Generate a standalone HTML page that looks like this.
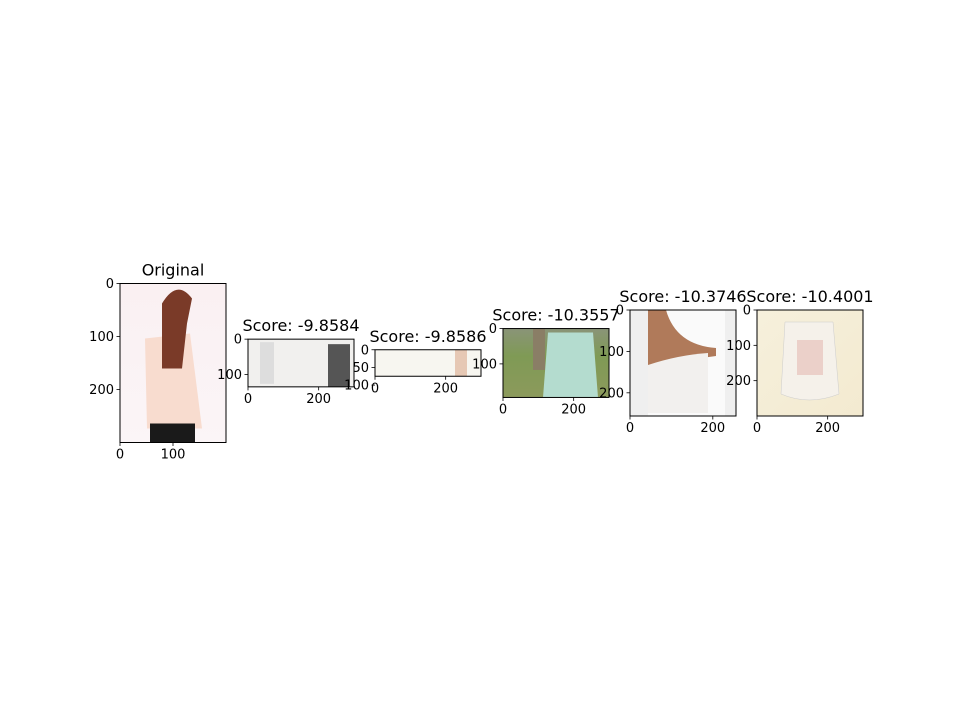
<!DOCTYPE html>
<html><head><meta charset="utf-8"><style>
html,body{margin:0;padding:0;background:#fff;width:960px;height:719px;overflow:hidden}
svg{font-family:"DejaVu Sans","Liberation Sans",sans-serif}
</style></head><body>
<svg id="fig" width="960" height="719" xmlns="http://www.w3.org/2000/svg">
<defs>
<linearGradient id="g0" x1="0" y1="0" x2="0" y2="1"><stop offset="0" stop-color="#faf0f2"/><stop offset="1" stop-color="#fbf5f7"/></linearGradient>
<linearGradient id="g3" x1="0" y1="0" x2="0" y2="1"><stop offset="0" stop-color="#8a9478"/><stop offset="0.4" stop-color="#7f9a55"/><stop offset="1" stop-color="#8c9a5c"/></linearGradient>
<linearGradient id="g5" x1="0" y1="0" x2="1" y2="1"><stop offset="0" stop-color="#f6f0dc"/><stop offset="1" stop-color="#f3ead0"/></linearGradient>
</defs>
</svg>
<script>
const titles = ["Original","Score: -9.8584","Score: -9.8586","Score: -10.3557","Score: -10.3746","Score: -10.4001"];
const imgW = [200,300,300,300,256,300];
const imgH = [300,135,75,195,256,300];
const xTicks = [[0,100],[0,200],[0,200],[0,200],[0,200],[0,200]];
const yTicks = [[0,100,200],[0,100],[0,50,100],[0,100],[0,100,200],[0,100,200]];
const boxX = [120,248,375,503,630,757];
const boxW = 106;
const centerY = 363;
const NS="http://www.w3.org/2000/svg";
const svg=document.getElementById('fig');
function mk(t,a,p){const e=document.createElementNS(NS,t);for(const k in a)e.setAttribute(k,a[k]);(p||svg).appendChild(e);return e;}
const fills=["url(#g0)","#f1f0ee","#f7f6f0","url(#g3)","#efefef","url(#g5)"];
titles.forEach((tt,i)=>{
  const s=boxW/imgW[i];
  const h=imgH[i]*s;
  const x0=boxX[i], y0=centerY-h/2;
  const g=mk('g',{});
  
  
  const im=mk('g',{},g);
  
  
  mk('rect',{x:x0,y:y0,width:boxW,height:h,fill:fills[i]},im);
  if(i===0){
    mk('path',{d:`M${x0+25} ${y0+55} l45 -5 l12 95 l-55 0 z`,fill:'#f8dccf'},im);
    mk('path',{d:`M${x0+42} ${y0+20} q15 -25 30 -5 l-5 25 l-5 45 l-20 0 z`,fill:'#7a3a28'},im);
    mk('rect',{x:x0+30,y:y0+140,width:45,height:19,fill:'#1a1a1a'},im);
  }else if(i===1){
    mk('rect',{x:x0+12,y:y0+3,width:14,height:h-6,fill:'#ddd'},im);
    mk('rect',{x:x0+80,y:y0+5,width:22,height:h-5,fill:'#555'},im);
  }else if(i===2){
    mk('rect',{x:x0+80,y:y0,width:12,height:h,fill:'#e6c8b4'},im);
  }else if(i===3){
    mk('rect',{x:x0+30,y:y0,width:12,height:h*0.6,fill:'#8a7e66'},im);
    mk('path',{d:`M${x0+45} ${y0+4} l45 0 l5 ${h-4} l-55 0 z`,fill:'#b4dccf'},im);
  }else if(i===4){
    mk('rect',{x:x0+18,y:y0,width:77,height:h,fill:'#fafafa'},im);
    mk('path',{d:`M${x0+18} ${y0} l18 0 q10 35 50 38 l0 8 q-35 5 -50 5 l-18 40 z`,fill:'#b07a5a'},im);
    mk('path',{d:`M${x0+18} ${y0+55} q30 -10 60 -12 l0 60 l-60 0 z`,fill:'#f2f0ee'},im);
  }else{
    mk('path',{d:`M${x0+28} ${y0+12} l48 0 l6 72 q-30 12 -58 0 z`,fill:'#f5f1ea',stroke:'#ccc','stroke-width':0.5},im);
    mk('rect',{x:x0+40,y:y0+30,width:26,height:35,fill:'#e8c8c0',opacity:0.8},im);
  }
  const fr=mk('rect',{x:x0,y:y0,width:boxW,height:h,fill:'none',stroke:'#000','stroke-width':1},g);
  
  
  xTicks[i].forEach(v=>{
    const x=x0+v*s;
    mk('line',{x1:x,y1:y0+h,x2:x,y2:y0+h+3.5,stroke:'#000','stroke-width':0.8},g);
    const t=mk('text',{x:x,y:y0+h+16,'font-size':13,'text-anchor':'middle'},g);
    
    
    t.textContent=v;
  });
  yTicks[i].forEach(v=>{
    const y=y0+v*s;
    mk('line',{x1:x0,y1:y,x2:x0-3.5,y2:y,stroke:'#000','stroke-width':0.8},g);
    const t=mk('text',{x:x0-6,y:y+4.5,'font-size':13,'text-anchor':'end'},g);
    
    
    t.textContent=v;
  });
  const ti=mk('text',{x:x0+boxW/2,y:y0-8,'font-size':16,'text-anchor':'middle'},g);
  
  
  ti.textContent=tt;
});
</script>
</body></html>
